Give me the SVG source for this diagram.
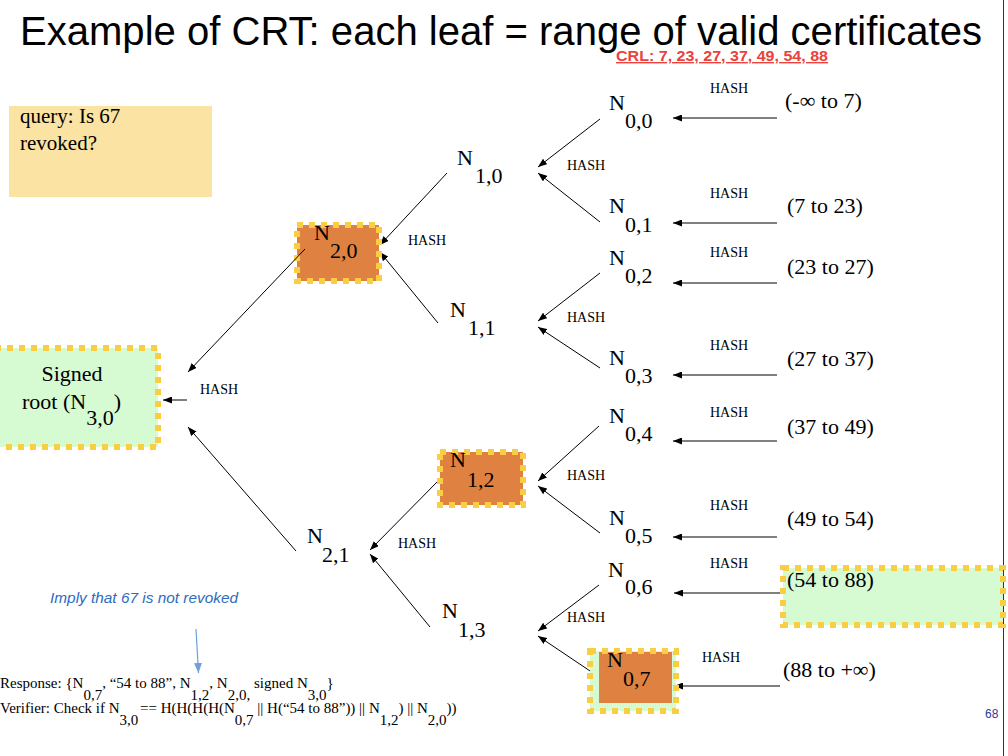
<svg xmlns="http://www.w3.org/2000/svg" width="1008" height="756" viewBox="0 0 1008 756">
<style>
.t{font-family:"Liberation Serif","Times New Roman",serif;fill:#000}
.n{font-size:22px}
.h{font-size:14px}
.r{font-size:22px}
.b{font-size:15px}
.c{stroke:#000;stroke-width:1;fill:none}
.dot{fill:none;stroke:#F9CD44;stroke-width:6;stroke-dasharray:6 6}
.or{fill:#DF8241}
.gr{fill:#D6FAD2}
</style>
<defs>
<marker id="ah" markerUnits="userSpaceOnUse" markerWidth="9" markerHeight="7" refX="9" refY="3.5" orient="auto">
<path d="M0,0 L9,3.5 L0,7 z" fill="#000"/>
</marker>
<marker id="ahb" markerUnits="userSpaceOnUse" markerWidth="10" markerHeight="8" refX="10" refY="4" orient="auto">
<path d="M0,0 L10,4 L0,8 z" fill="#6F9FDA"/>
</marker>
</defs>
<rect width="1008" height="756" fill="#fff"/>
<line x1="1003.5" y1="0" x2="1003.5" y2="756" stroke="#333" stroke-width="1"/>
<text x="20" y="45" font-family="Liberation Sans, Arial, sans-serif" font-size="40" textLength="962" lengthAdjust="spacingAndGlyphs">Example of CRT: each leaf = range of valid certificates</text>
<text x="616" y="61" font-family="Liberation Sans, Arial, sans-serif" font-size="14" font-weight="bold" fill="#E8433C" text-decoration="underline" textLength="212" lengthAdjust="spacingAndGlyphs">CRL: 7, 23, 27, 37, 49, 54, 88</text>

<g id="query">
<rect x="9" y="106" width="203" height="91" fill="#FBE3A3"/>
<text class="t" font-size="21" x="20" y="123">query: Is 67</text>
<text class="t" font-size="21" x="20" y="150">revoked?</text>
</g>

<g id="connectors">
<line class="c" x1="777" y1="118" x2="673" y2="118" marker-end="url(#ah)"/>
<line class="c" x1="777" y1="223" x2="673" y2="223" marker-end="url(#ah)"/>
<line class="c" x1="777" y1="283" x2="673" y2="283" marker-end="url(#ah)"/>
<line class="c" x1="777" y1="375" x2="673" y2="375" marker-end="url(#ah)"/>
<line class="c" x1="777" y1="441" x2="673" y2="441" marker-end="url(#ah)"/>
<line class="c" x1="777" y1="537" x2="673" y2="537" marker-end="url(#ah)"/>
<line class="c" x1="780" y1="593" x2="674" y2="593" marker-end="url(#ah)"/>
<line class="c" x1="780" y1="686" x2="674" y2="686" marker-end="url(#ah)"/>
<line class="c" x1="600" y1="119" x2="538" y2="167" marker-end="url(#ah)"/>
<line class="c" x1="600" y1="222" x2="538" y2="173" marker-end="url(#ah)"/>
<line class="c" x1="600" y1="273" x2="538" y2="321" marker-end="url(#ah)"/>
<line class="c" x1="600" y1="368" x2="538" y2="327" marker-end="url(#ah)"/>
<line class="c" x1="599" y1="426" x2="538" y2="481" marker-end="url(#ah)"/>
<line class="c" x1="600" y1="533" x2="538" y2="486" marker-end="url(#ah)"/>
<line class="c" x1="599" y1="585" x2="538" y2="631" marker-end="url(#ah)"/>
<line class="c" x1="599" y1="677" x2="538" y2="636" marker-end="url(#ah)"/>
<line class="c" x1="447" y1="173" x2="380" y2="245" marker-end="url(#ah)"/>
<line class="c" x1="438" y1="323" x2="380" y2="252" marker-end="url(#ah)"/>
<line class="c" x1="440" y1="479" x2="370" y2="550" marker-end="url(#ah)"/>
<line class="c" x1="430" y1="627" x2="370" y2="554" marker-end="url(#ah)"/>
<line class="c" x1="296" y1="551" x2="188" y2="427" marker-end="url(#ah)"/>
<line class="c" x1="187" y1="400" x2="163" y2="400" marker-end="url(#ah)"/>
<line x1="196" y1="629" x2="198.5" y2="673" stroke="#6F9FDA" stroke-width="1.2" marker-end="url(#ahb)"/>
</g>

<g id="hash-labels" class="t h">
<text x="710" y="93">HASH</text>
<text x="710" y="198">HASH</text>
<text x="710" y="257">HASH</text>
<text x="710" y="350">HASH</text>
<text x="710" y="417">HASH</text>
<text x="710" y="510">HASH</text>
<text x="710" y="568">HASH</text>
<text x="702" y="662">HASH</text>
<text x="567" y="170">HASH</text>
<text x="567" y="322">HASH</text>
<text x="567" y="480">HASH</text>
<text x="567" y="622">HASH</text>
<text x="408" y="245">HASH</text>
<text x="398" y="548">HASH</text>
<text x="200" y="394">HASH</text>
</g>

<g id="range-54-88">
<rect class="gr" x="783" y="568" width="220" height="57"/>
<rect class="dot" x="783" y="568" width="220" height="57"/>
</g>

<g id="ranges" class="t r">
<text x="785" y="108">(-∞ to 7)</text>
<text x="787" y="213">(7 to 23)</text>
<text x="787" y="274">(23 to 27)</text>
<text x="787" y="366">(27 to 37)</text>
<text x="787" y="434">(37 to 49)</text>
<text x="787" y="526">(49 to 54)</text>
<text x="787" y="587">(54 to 88)</text>
<text x="783" y="677">(88 to +∞)</text>
</g>

<g id="n00" class="t n"><text x="609" y="110">N<tspan x="625" y="128">0,0</tspan></text></g>
<g id="n01" class="t n"><text x="609" y="213">N<tspan x="625" y="232">0,1</tspan></text></g>
<g id="n02" class="t n"><text x="609" y="265">N<tspan x="625" y="283">0,2</tspan></text></g>
<g id="n03" class="t n"><text x="609" y="365">N<tspan x="625" y="383">0,3</tspan></text></g>
<g id="n04" class="t n"><text x="609" y="423">N<tspan x="625" y="441">0,4</tspan></text></g>
<g id="n05" class="t n"><text x="609" y="525">N<tspan x="625" y="543">0,5</tspan></text></g>
<g id="n06" class="t n"><text x="608" y="577">N<tspan x="625" y="594">0,6</tspan></text></g>
<g id="n07">
<rect class="gr" x="590" y="651" width="86" height="60"/>
<rect class="or" x="599" y="652" width="73" height="51"/>
<rect class="dot" x="590" y="651" width="86" height="60"/>
<text class="t n" x="607" y="667">N<tspan x="623" y="686">0,7</tspan></text>
</g>

<g id="n10" class="t n"><text x="457" y="165">N<tspan x="475" y="183">1,0</tspan></text></g>
<g id="n11" class="t n"><text x="450" y="317">N<tspan x="468" y="335">1,1</tspan></text></g>
<g id="n12">
<rect class="or" x="440" y="452" width="83" height="53"/>
<rect class="dot" x="440" y="452" width="83" height="53"/>
<text class="t n" x="450" y="467">N<tspan x="467" y="487">1,2</tspan></text>
</g>
<g id="n13" class="t n"><text x="442" y="618">N<tspan x="458" y="637">1,3</tspan></text></g>

<g id="n20">
<rect class="or" x="297" y="225" width="82" height="56"/>
<rect class="dot" x="297" y="225" width="82" height="56"/>
<text class="t n" x="314" y="240">N<tspan x="330" y="258">2,0</tspan></text>
<line class="c" x1="305" y1="249" x2="188" y2="372" marker-end="url(#ah)"/>
</g>
<g id="n21" class="t n"><text x="307" y="543">N<tspan x="322" y="562">2,1</tspan></text></g>

<g id="root">
<rect class="gr" x="-5" y="348" width="163" height="99"/>
<rect class="dot" x="-5" y="348" width="163" height="99"/>
<text class="t n" x="72" y="381" text-anchor="middle">Signed</text>
<text class="t n" x="22" y="409">root (N<tspan y="425">3,0</tspan><tspan y="409">)</tspan></text>
</g>

<text x="50" y="603" font-family="Liberation Sans, Arial, sans-serif" font-size="14" font-style="italic" fill="#2E6BC0" textLength="188" lengthAdjust="spacingAndGlyphs">Imply that 67 is not revoked</text>

<g id="response" class="t b">
<text x="0" y="688">Response: {N<tspan dy="12">0,7</tspan><tspan dy="-12">, “54 to 88”, N</tspan><tspan dy="12">1,2</tspan><tspan dy="-12">, N</tspan><tspan dy="12">2,0,</tspan><tspan dy="-12" x="254">signed N</tspan><tspan dy="12">3,0</tspan><tspan dy="-12">}</tspan></text>
<text x="0" y="713">Verifier: Check if N<tspan dy="12">3,0</tspan><tspan dy="-12" x="140">== H(H(H(H(N</tspan><tspan dy="12">0,7</tspan><tspan dy="-12"> || H(“54 to 88”)) || N</tspan><tspan dy="12">1,2</tspan><tspan dy="-12">) || N</tspan><tspan dy="12">2,0</tspan><tspan dy="-12">))</tspan></text>
</g>

<text x="985" y="718" font-family="Liberation Sans, Arial, sans-serif" font-size="12" fill="#2A3D9E">68</text>
</svg>
